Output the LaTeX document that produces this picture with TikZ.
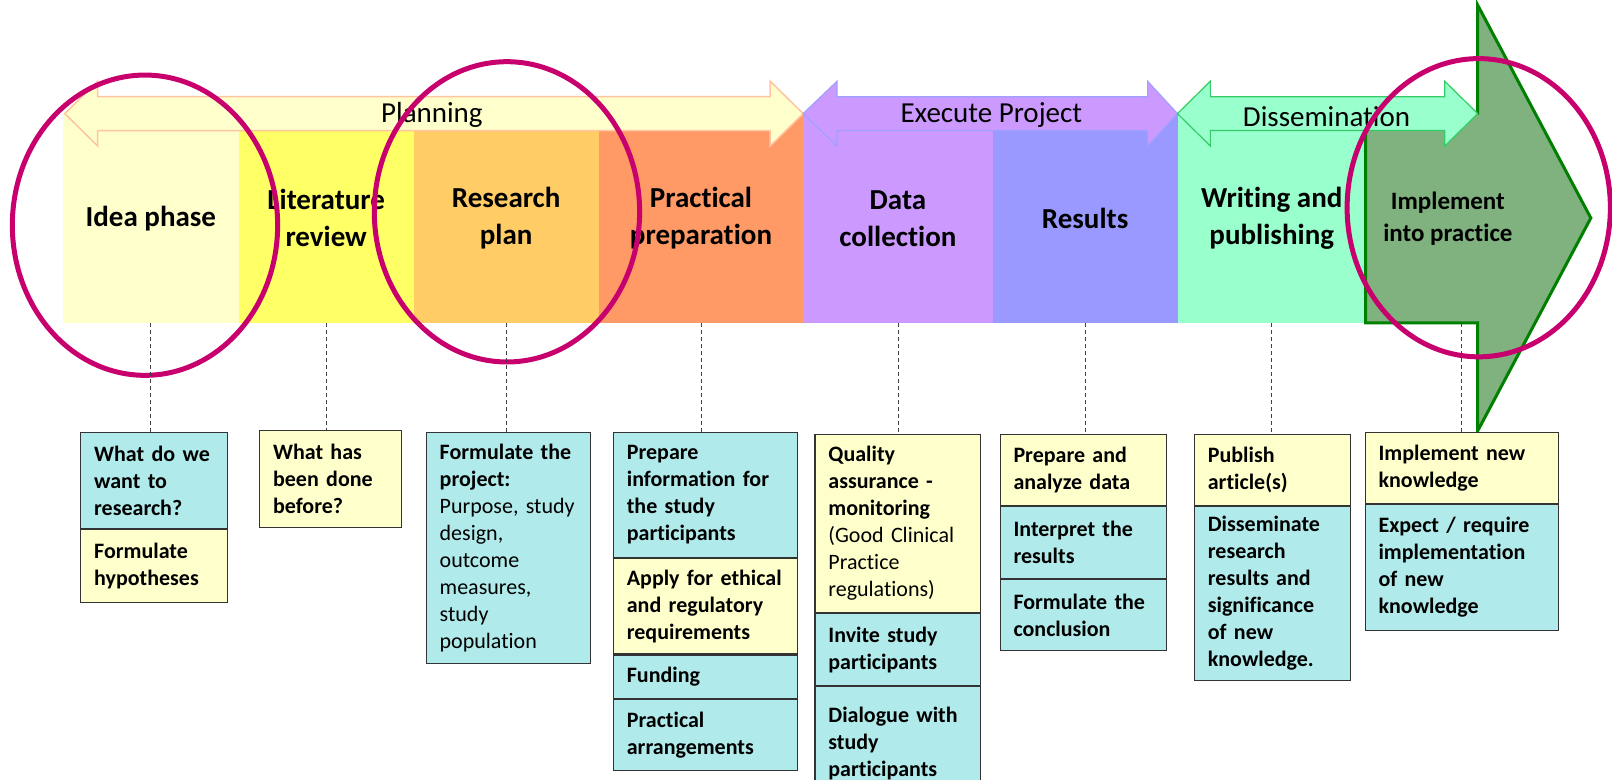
\documentclass[tikz,border=0pt]{standalone}
\usepackage{fontspec}
\setmainfont{Carlito}[Ligatures=NoCommon]
\usetikzlibrary{positioning}

\newlength{\pxu}
\setlength{\pxu}{1.0283pt}

\definecolor{ideaC}{HTML}{FFFFCC}
\definecolor{litC}{HTML}{FFFF66}
\definecolor{planC}{HTML}{FFCC66}
\definecolor{prepC}{HTML}{FF9966}
\definecolor{dataC}{HTML}{CC99FF}
\definecolor{resC}{HTML}{9999FF}
\definecolor{writeC}{HTML}{99FFCC}
\definecolor{implC}{HTML}{80B280}
\definecolor{implEdge}{HTML}{008000}
\definecolor{planEdge}{HTML}{FFC4A0}
\definecolor{execEdge}{HTML}{A0A0FF}
\definecolor{dissEdge}{HTML}{33CC66}
\definecolor{boxC}{HTML}{B0EAEA}
\definecolor{noteC}{HTML}{FFFFCC}
\definecolor{ringC}{HTML}{C8006E}

\tikzset{
  phase/.style={anchor=north west, minimum height=204\pxu, inner sep=0pt, align=center,
    font=\bfseries\fontsize{29}{37}\selectfont},
  bandtext/.style={inner sep=0pt, font=\fontsize{29}{32}\selectfont},
  infobox/.style={draw=black!80, line width=1.2pt, align=left, inner xsep=13\pxu, inner ysep=2pt,
    font=\bfseries\fontsize{22}{27}\selectfont},
  cyanbox/.style={infobox, fill=boxC},
  yelbox/.style={infobox, fill=noteC},
  link/.style={dash pattern=on 4pt off 3pt, black!75, line width=0.8pt},
  ring/.style={ringC, line width=5pt},
  planarrow/.style={fill=ideaC, draw=planEdge, line width=1.5pt},
  execarrow/.style={fill=dataC, draw=execEdge, line width=1.2pt},
  dissarrow/.style={fill=writeC, draw=dissEdge, line width=1.2pt},
  implarrow/.style={fill=implC, draw=implEdge, line width=3pt},
}

\begin{document}
\begin{tikzpicture}[x=1.0283pt, y=-1.0283pt]
\useasboundingbox (0,0) rectangle (1567.6,757.6);

% phase blocks
\node[phase, fill=ideaC, minimum width=171\pxu] (idea) at (61,110) {Idea phase};
\node[phase, fill=litC, minimum width=170\pxu] (litrev) at (232,110) {Literature\\review};
\node[phase, fill=planC, minimum width=180\pxu] (resplan) at (402,110) {Research\\plan};
\node[phase, fill=prepC, minimum width=199\pxu] (prep) at (582,110) {Practical\\preparation};
\node[phase, fill=dataC, minimum width=184\pxu] (datacol) at (781,110) {Data\\collection};
\node[phase, fill=resC, minimum width=180\pxu] (results) at (965,110) {Results};
\node[phase, fill=writeC, minimum width=183\pxu] (writing) at (1145,110) {Writing and\\publishing};

% big arrow
\draw[implarrow] (1328,110) -- (1437,110) -- (1437,5) -- (1547,212) -- (1437,419)
  -- (1437,314) -- (1328,314) -- cycle;
\node[align=center, inner sep=0pt, font=\bfseries\fontsize{25}{32}\selectfont] (implement) at (1408,213) {Implement\\into practice};

% band arrows
\draw[planarrow] (63,110.5) -- (95,79) -- (95,94) -- (749,94) -- (749,79) -- (781,110.5)
  -- (749,142) -- (749,127) -- (95,127) -- (95,142) -- cycle;
\draw[execarrow] (781,110.5) -- (814,79) -- (814,94) -- (1116,94) -- (1116,79) -- (1145,110.5)
  -- (1116,142) -- (1116,127) -- (814,127) -- (814,142) -- cycle;
\draw[dissarrow] (1145,110.5) -- (1177,79) -- (1177,94) -- (1405,94) -- (1405,79) -- (1437,110.5)
  -- (1405,142) -- (1405,127) -- (1177,127) -- (1177,142) -- cycle;
\node[bandtext] (planning) at (420,112) {Planning};
\node[bandtext] (execute) at (964,112) {Execute Project};
\node[bandtext] (dissem) at (1290,113) {Dissemination};

% highlight rings
\draw[ring] (141,219) ellipse [x radius=129, y radius=146];
\draw[ring] (493,206) ellipse [x radius=129, y radius=146];
\draw[ring] (1438,202) ellipse [x radius=128, y radius=145];

% task boxes
\node[cyanbox, anchor=north west, text width=117\pxu, minimum height=93.5\pxu] (idea1) at (78,420)
  {What do we\\want to\\research?};
\node[yelbox, below=0pt of idea1, text width=117\pxu, minimum height=70.5\pxu] (idea2)
  {Formulate\\hypotheses};

\node[yelbox, anchor=north west, text width=112\pxu, minimum height=94\pxu] (lit1) at (252,418)
  {What has\\been done\\before?};

\node[cyanbox, anchor=north west, text width=134\pxu, minimum height=225\pxu] (plan1) at (414,420)
  {Formulate the\\project:\\\mdseries Purpose, study\\design,\\outcome\\measures,\\study\\population};

\node[cyanbox, anchor=north west, text width=153\pxu, minimum height=121.5\pxu] (prep1) at (596,420)
  {Prepare\\information for\\the study\\participants};
\node[yelbox, below=0pt of prep1, text width=153\pxu, minimum height=92.5\pxu] (prep2)
  {Apply for ethical\\and regulatory\\requirements};
\node[cyanbox, below=0pt of prep2, text width=153\pxu, minimum height=42\pxu] (prep3)
  {Funding};
\node[cyanbox, below=0pt of prep3, text width=153\pxu, minimum height=69\pxu] (prep4)
  {Practical\\arrangements};

\node[yelbox, anchor=north west, text width=135\pxu, minimum height=173\pxu] (data1) at (792,422)
  {Quality\\assurance -\\monitoring\\\mdseries(Good Clinical\\Practice\\regulations)};
\node[cyanbox, below=0pt of data1, text width=135\pxu, minimum height=70\pxu] (data2)
  {Invite study\\participants};
\node[cyanbox, below=0pt of data2, text width=135\pxu, minimum height=110\pxu] (data3)
  {Dialogue with\\study\\participants};

\node[yelbox, anchor=north west, text width=136\pxu, minimum height=69\pxu] (res1) at (972,422)
  {Prepare and\\analyze data};
\node[cyanbox, below=0pt of res1, text width=136\pxu, minimum height=70\pxu] (res2)
  {Interpret the\\results};
\node[cyanbox, below=0pt of res2, text width=136\pxu, minimum height=69\pxu] (res3)
  {Formulate the\\conclusion};

\node[yelbox, anchor=north west, text width=126\pxu, minimum height=69\pxu] (write1) at (1161,422)
  {Publish\\article(s)};
\node[cyanbox, below=0pt of write1, text width=126\pxu, minimum height=169\pxu] (write2)
  {Disseminate\\research\\results and\\significance\\of new\\knowledge.};

\node[yelbox, anchor=north west, text width=162\pxu, minimum height=69\pxu] (impl1) at (1327,420)
  {Implement new\\knowledge};
\node[cyanbox, below=0pt of impl1, text width=162\pxu, minimum height=122\pxu] (impl2)
  {Expect / require\\implementation\\of new\\knowledge};

% dashed links
\draw[link] (idea.south) -- (idea.south |- idea1.north);
\draw[link] (litrev.south) -- (litrev.south |- lit1.north);
\draw[link] (resplan.south) -- (resplan.south |- plan1.north);
\draw[link] (prep.south) -- (prep.south |- prep1.north);
\draw[link] (datacol.south) -- (datacol.south |- data1.north);
\draw[link] (results.south) -- (results.south |- res1.north);
\draw[link] (writing.south) -- (writing.south |- write1.north);
\draw[link] (impl1.north) -- (impl1.north |- writing.south);
\end{tikzpicture}
\end{document}
